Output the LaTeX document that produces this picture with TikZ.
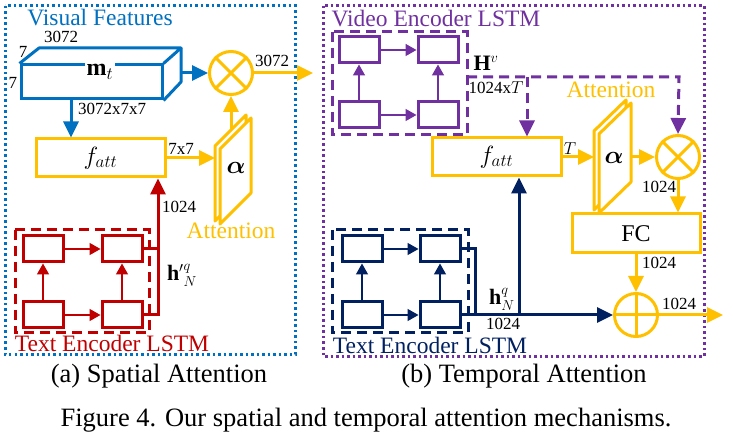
\documentclass[tikz,border=0pt]{standalone}
\usepackage{fontspec}
\setmainfont{Liberation Serif}
\usepackage{amsmath, bm}
\usetikzlibrary{arrows.meta}

\definecolor{vfblue}{RGB}{0,112,192}
\definecolor{attyellow}{RGB}{255,192,0}
\definecolor{txtred}{RGB}{192,0,0}
\definecolor{vidpurple}{RGB}{112,48,160}
\definecolor{txtnavy}{RGB}{0,32,96}

\tikzset{
    wire/.style={line width=3pt, -{Triangle[length=16pt,width=15pt]}},
    bare wire/.style={line width=3pt},
    link/.style={line width=1.5pt, -{Triangle[length=11pt,width=12pt]}},
    cell/.style={draw, line width=3pt, minimum width=40pt, minimum height=26pt, inner sep=0pt},
    fbox/.style={draw=attyellow, line width=3pt, minimum width=129pt, minimum height=38pt, inner sep=0pt, font=\fontsize{24}{26}\selectfont},
    opnode/.style={circle, draw=attyellow, line width=3pt, minimum size=43pt, inner sep=0pt},
    attsheet/.style={draw=attyellow, line width=3pt, fill=white, line join=round},
    lab/.style={font=\fontsize{17}{19}\selectfont, inner sep=0pt, anchor=base},
    title/.style={font=\fontsize{23.5}{26}\selectfont, inner sep=0pt, anchor=base},
    capt/.style={font=\fontsize{26.5}{30}\selectfont, inner sep=0pt, anchor=base},
    frame/.style={line width=3pt, dash pattern=on 2.5pt off 3pt},
    group/.style={line width=3pt, dash pattern=on 10pt off 6pt},
}

\begin{document}
\begin{tikzpicture}[x=1pt, y=-1pt]
    \useasboundingbox (0,0) rectangle (733,435);
    \newcommand\rowU{249}
    \newcommand\rowL{315}

    \draw[frame, vfblue] (5,6) rectangle (295,354);
    \draw[frame, vidpurple] (323,6) rectangle (704,356);

    % (a) spatial attention
    \node[title, text=vfblue] (labVF) at (100,26) {Visual Features};

    \node[draw=vfblue, line width=3pt, minimum width=141pt, minimum height=34pt, inner sep=0pt] (mt) at (91.5,82) {};
    \draw[vfblue, line width=3pt, line join=round] (mt.north west) -- (39,48) -- (181,48) -- (mt.north east);
    \draw[vfblue, line width=3pt, line join=round] (mt.south east) -- (181,82) -- (181,48);
    \node[fill=white, font=\fontsize{24}{26}\selectfont, inner sep=2pt] (labmt) at (100,72) {$\mathbf{m}_t$};
    \node[lab] (dimC) at (61,43) {3072};
    \node[lab] (dimH) at (23,58) {7};
    \node[lab] (dimW) at (13,89) {7};

    \node[opnode] (otA) at (231,73) {};
    \draw[attyellow, line width=3pt] (otA.north east) -- (otA.south west) (otA.north west) -- (otA.south east);
    \coordinate (mtR) at (181,73);
    \draw[wire, vfblue] (mtR) -- (otA.west);
    \coordinate (outA) at (313,73);
    \draw[wire, attyellow] (otA.east) -- (outA);
    \node[lab] (labOutA) at (272,67) {3072};

    \node[fbox] (fattA) at (100.5,158) {$f_{att}$};
    \coordinate (mtD) at (71,99);
    \draw[wire, vfblue] (mtD) -- (mtD |- fattA.north);
    \node[lab] (labMap) at (112,115) {3072x7x7};

    \draw[attsheet] (215,146) -- (246,115) -- (246,190) -- (215,221) -- cycle;
    \draw[attsheet] (220,149) -- (251,118) -- (251,193) -- (220,224) -- cycle;
    \node[font=\fontsize{24}{26}\selectfont] (alphaA) at (236,168) {$\bm{\alpha}$};
    \coordinate (attAin) at (215,158);
    \coordinate (attAout) at (231,130);
    \draw[wire, attyellow] (fattA.east) -- (attAin);
    \node[lab] (lab77) at (181,155) {7x7};
    \draw[wire, attyellow] (attAout) -- (otA.south);
    \node[title, text=attyellow] (labAttA) at (231,239) {Attention};

    \draw[group, txtred] (15,230) rectangle (149,333);
    \node[cell, txtred] (txA1) at (43,\rowU) {};
    \node[cell, txtred] (txA2) at (122,\rowU) {};
    \node[cell, txtred] (txA3) at (43,\rowL) {};
    \node[cell, txtred] (txA4) at (122,\rowL) {};
    \draw[link, txtred] (txA1) -- (txA2);
    \draw[link, txtred] (txA3) -- (txA4);
    \draw[link, txtred] (txA3) -- (txA1);
    \draw[link, txtred] (txA4) -- (txA2);
    \coordinate (hA) at (158,\rowL);
    \draw[bare wire, txtred] (txA2.east) -- (hA |- txA2.east);
    \draw[wire, txtred] (txA4.east) -- (hA) -- (hA |- fattA.south);
    \node[lab] (labQA) at (179,213) {1024};
    \node[font=\fontsize{22}{24}\selectfont] (hqA) at (182,275) {$\mathbf{h'}^{q}_{N}$};
    \node[title, text=txtred] (labTxA) at (112,352) {Text Encoder LSTM};

    % (b) temporal attention
    \node[title, text=vidpurple] (labVid) at (436,27) {Video Encoder LSTM};
    \draw[group, vidpurple] (332,32) rectangle (467,135);
    \node[cell, vidpurple] (vd1) at (359,50) {};
    \node[cell, vidpurple] (vd2) at (438,50) {};
    \node[cell, vidpurple] (vd3) at (359,115) {};
    \node[cell, vidpurple] (vd4) at (438,115) {};
    \draw[link, vidpurple] (vd1) -- (vd2);
    \draw[link, vidpurple] (vd3) -- (vd4);
    \draw[link, vidpurple] (vd3) -- (vd1);
    \draw[link, vidpurple] (vd4) -- (vd2);

    \node[fbox] (fattB) at (496.5,157) {$f_{att}$};
    \node[opnode] (otB) at (678,157) {};
    \draw[attyellow, line width=3pt] (otB.north east) -- (otB.south west) (otB.north west) -- (otB.south east);
    \node[fbox, minimum width=128pt, minimum height=39pt] (fc) at (636,233.5) {FC};
    \node[opnode] (opB) at (636,315) {};
    \draw[attyellow, line width=3pt] (opB.north) -- (opB.south) (opB.west) -- (opB.east);

    \coordinate (hv) at (467,77);
    \coordinate (hvC) at (679,77);
    \coordinate (hvF) at (527,77);
    \draw[wire, vidpurple, dash pattern=on 10pt off 6pt] (hv) -- (hvC) -- (otB.north);
    \draw[wire, vidpurple, dash pattern=on 10pt off 6pt] (hvF) -- (hvF |- fattB.north);
    \node[font=\fontsize{22}{24}\selectfont] (labHv) at (486,63) {$\mathbf{H}^{v}$};
    \node[lab] (labHvDim) at (496,94) {1024x$T$};

    \draw[attsheet] (594,131) -- (626,100) -- (626,178) -- (594,210) -- cycle;
    \draw[attsheet] (599,134) -- (631,103) -- (631,182) -- (599,213) -- cycle;
    \node[font=\fontsize{24}{26}\selectfont] (alphaB) at (614,158) {$\bm{\alpha}$};
    \node[title, text=attyellow] (labAttB) at (611,98) {Attention};
    \coordinate (attBin) at (594,157);
    \coordinate (attBout) at (631,157);
    \draw[wire, attyellow] (fattB.east) -- (attBin);
    \node[lab] (labT) at (570,155) {$T$};
    \draw[wire, attyellow] (attBout) -- (otB.west);
    \draw[wire, attyellow] (otB.south) -- (otB.south |- fc.north);
    \node[lab] (labCtx) at (659,193) {1024};
    \draw[wire, attyellow] (fc.south) -- (opB.north);
    \node[lab] (labFc) at (659,269) {1024};
    \coordinate (outB) at (723,315);
    \draw[wire, attyellow] (opB.east) -- (outB);
    \node[lab] (labOutB) at (679,309) {1024};

    \draw[group, txtnavy] (332,230) rectangle (468,333);
    \node[cell, txtnavy] (txB1) at (362,\rowU) {};
    \node[cell, txtnavy] (txB2) at (440,\rowU) {};
    \node[cell, txtnavy] (txB3) at (362,\rowL) {};
    \node[cell, txtnavy] (txB4) at (440,\rowL) {};
    \draw[link, txtnavy] (txB1) -- (txB2);
    \draw[link, txtnavy] (txB3) -- (txB4);
    \draw[link, txtnavy] (txB3) -- (txB1);
    \draw[link, txtnavy] (txB4) -- (txB2);
    \coordinate (hB) at (475,\rowL);
    \coordinate (hBup) at (519,\rowL);
    \draw[bare wire, txtnavy] (txB2.east) -- (hB |- txB2.east) -- (hB);
    \draw[wire, txtnavy] (txB4.east) -- (opB.west);
    \draw[wire, txtnavy] (hBup) -- (hBup |- fattB.south);
    \node[font=\fontsize{22}{24}\selectfont] (hqB) at (502,299) {$\mathbf{h}^{q}_{N}$};
    \node[lab] (labQB) at (503,330) {1024};
    \node[title, text=txtnavy] (labTxB) at (430,353) {Text Encoder LSTM};

    % captions
    \node[capt] (capA) at (159,382) {(a) Spatial Attention};
    \node[capt] (capB) at (524,382) {(b) Temporal Attention};
    \node[capt] (capFig) at (366,426) {Figure 4. Our spatial and temporal attention mechanisms.};
\end{tikzpicture}
\end{document}
